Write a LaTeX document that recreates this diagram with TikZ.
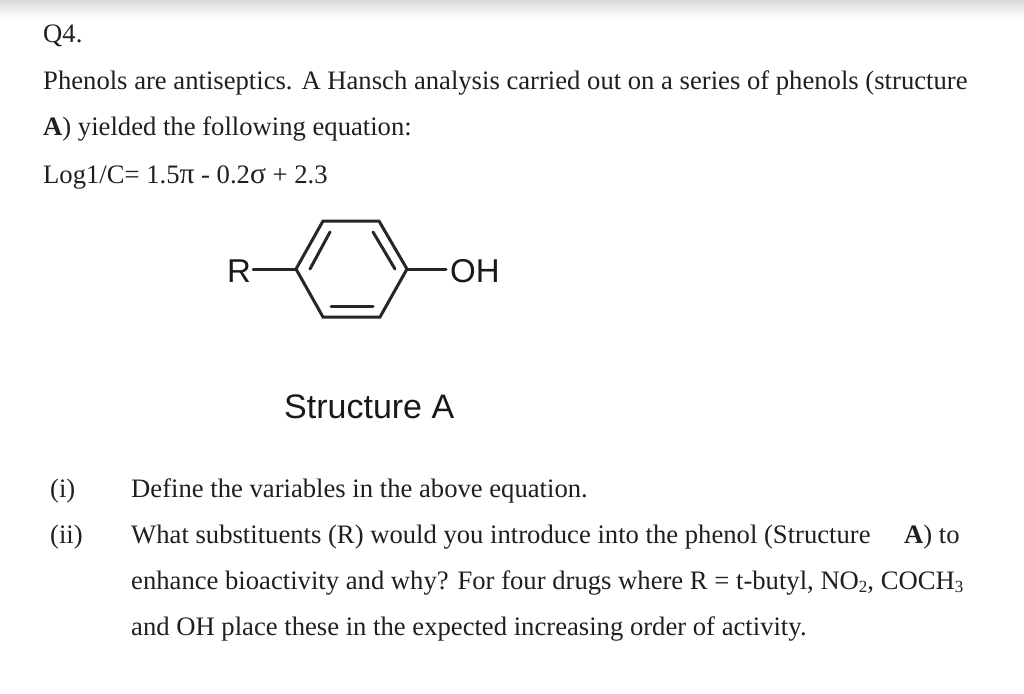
\documentclass[tikz,border=0pt]{standalone}
\usepackage{fontspec}
\setmainfont{Liberation Serif}
\newfontfamily\labelfont{Liberation Sans}
\newcommand{\lowidx}[1]{\raisebox{-3pt}{\fontsize{17}{17}\selectfont #1}}
\newcommand{\grk}[1]{{\fontsize{29.5}{30}\selectfont #1}}

\begin{document}
\begin{tikzpicture}[x=1pt,y=-1pt,line cap=round]
   \tikzset{txt/.style={anchor=base west,inner sep=0pt,font=\fontsize{26.65}{30}\selectfont,text=black!88}};
   \tikzset{lbl/.style={anchor=base west,inner sep=0pt,font=\labelfont\fontsize{33}{36}\selectfont,text=black!90}};
   \tikzset{bond/.style={line width=3pt,black!85}};
   \useasboundingbox (0,0) rectangle (1024,693);
   \shade[top color=black!15,bottom color=white] (0,0) rectangle (1024,18);

\node[txt] (q) at (43,43) {Q4.};
\node[txt] (l1) at (43,89) {Phenols are antiseptics. A Hansch analysis carried out on a series of phenols (structure};
\node[txt] (l2) at (43,135) {\textbf{A}) yielded the following equation:};
\node[txt] (l3) at (43,183) {Log1/C= 1.5\grk{π} - 0.2\grk{σ} + 2.3};

\coordinate (0) at (296,269);
\coordinate (1) at (323,221);
\coordinate (2) at (379,221);
\coordinate (3) at (407,269);
\coordinate (4) at (380,317);
\coordinate (5) at (323,317);
\coordinate (6) at (310,269);
\coordinate (7) at (330,232);
\coordinate (8) at (373,232);
\coordinate (9) at (395,269);
\coordinate (10) at (331,306);
\coordinate (11) at (373,306);
\coordinate (12) at (253,269);
\coordinate (13) at (446,269);

\node[lbl] (r) at (227,282) {R};
\node[lbl] (oh) at (450,282) {OH};
\node[lbl,font=\labelfont\fontsize{34}{36}\selectfont] (cap) at (284,418) {Structure A};

\draw[bond] (0) -- (1) -- (2) -- (3) -- (4) -- (5) -- cycle;
\draw[bond] (6) -- (7);
\draw[bond] (8) -- (9);
\draw[bond] (10) -- (11);
\draw[bond] (12) -- (0);
\draw[bond] (3) -- (13);

\node[txt] (i) at (50,497) {(i)};
\node[txt] (di) at (131,497) {Define the variables in the above equation.};
\node[txt] (ii) at (50,543) {(ii)};
\node[txt] (dii) at (131,543) {What substituents (R) would you introduce into the phenol (Structure};
\node[txt] (a) at (904,543) {\textbf{A}) to};
\node[txt] (e) at (131,589) {enhance bioactivity and why? For four drugs where R = t-butyl, NO\lowidx{2}, COCH\lowidx{3}};
\node[txt] (o) at (131,635) {and OH place these in the expected increasing order of activity.};
\end{tikzpicture}
\end{document}
